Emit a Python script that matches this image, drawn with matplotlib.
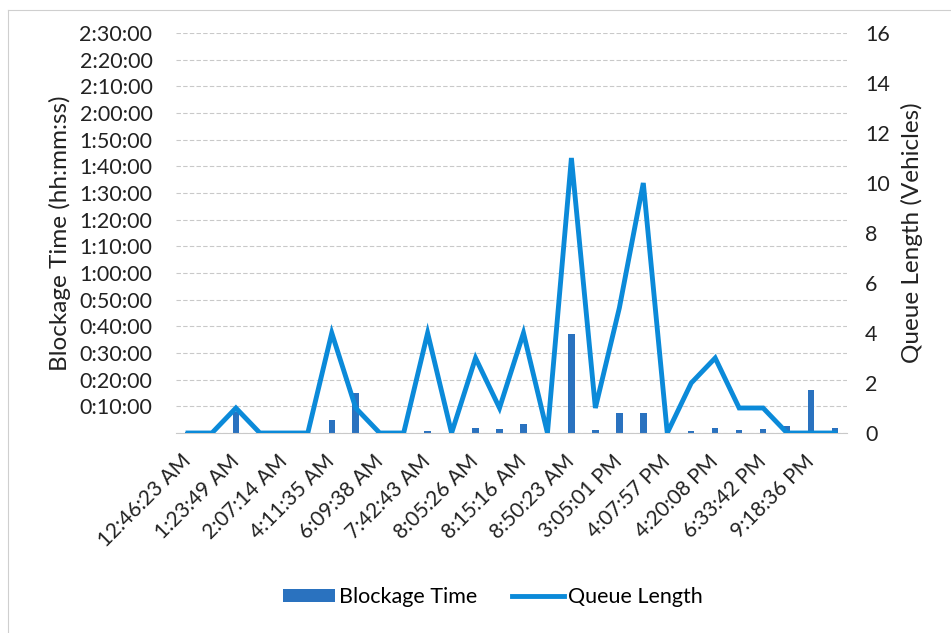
import matplotlib
matplotlib.use("Agg")
import matplotlib.pyplot as plt
from matplotlib.ticker import FuncFormatter, MultipleLocator
from matplotlib.lines import Line2D
from matplotlib.patches import Patch
import numpy as np

plt.rcParams['font.family'] = ['Lato', 'DejaVu Sans']

# event times (every other one gets a label on the axis)
times = ['12:46:23 AM', '', '1:23:49 AM', '', '2:07:14 AM', '', '4:11:35 AM', '',
         '6:09:38 AM', '', '7:42:43 AM', '', '8:05:26 AM', '', '8:15:16 AM', '',
         '8:50:23 AM', '', '3:05:01 PM', '', '4:07:57 PM', '', '4:20:08 PM', '',
         '6:33:42 PM', '', '9:18:36 PM', '']

# blockage time in minutes
blockage_min = [0.5, 0, 8, 0, 0, 0, 5, 15, 0, 0, 0.7, 0, 2, 1.5,
                3.5, 0, 37, 1, 7.5, 7.5, 0, 0.7, 2, 1, 1.5, 2.5, 16, 2]

# queue length in vehicles
queue = [0, 0, 1, 0, 0, 0, 4, 1, 0, 0, 4, 0, 3, 1,
         4, 0, 11, 1, 5, 10, 0, 2, 3, 1, 1, 0, 0, 0]

bar_color = '#2a72bf'
line_color = '#0b8ad9'
text_color = '#222222'

fig = plt.figure(figsize=(9.51, 6.33), dpi=100)
ax = fig.add_axes([176/951, 200/633, 671/951, 400/633])
ax2 = ax.twinx()

x = np.arange(len(times))
blockage_sec = np.array(blockage_min) * 60

ax.bar(x, blockage_sec, width=0.27, color=bar_color, zorder=2)
ax2.plot(x, queue, color=line_color, linewidth=3.5, solid_joinstyle='miter', zorder=3)

ax.set_xlim(-0.5, len(times) - 0.5)
ax.set_ylim(0, 150 * 60)
ax2.set_ylim(0, 16)

def hms(v, pos):
    if v <= 0:
        return ''
    v = int(round(v))
    return f'{v // 3600}:{(v % 3600) // 60:02d}:{v % 60:02d}'

ax.yaxis.set_major_locator(MultipleLocator(600))
ax.yaxis.set_major_formatter(FuncFormatter(hms))
ax2.yaxis.set_major_locator(MultipleLocator(2))

ax.grid(axis='y', color='#c9c9c9', linestyle=(0, (4, 2)), linewidth=0.8, zorder=0)
ax.set_axisbelow(True)

for a in (ax, ax2):
    for s in a.spines.values():
        s.set_visible(False)
ax.spines['bottom'].set_visible(True)
ax.spines['bottom'].set_color('#c9c9c9')
ax.spines['bottom'].set_linewidth(0.8)

ax.tick_params(axis='y', length=0, pad=17, labelsize=15.5, colors=text_color)
ax2.tick_params(axis='y', length=0, pad=13, labelsize=15.5, colors=text_color)
ax.set_xticks(x)
ax.set_xticklabels(times, rotation=45, ha='right', va='center',
                   rotation_mode='anchor', fontsize=15, color=text_color)
ax.tick_params(axis='x', length=0, pad=18)

ax.set_ylabel('Blockage Time (hh:mm:ss)', fontsize=17.5, color=text_color, labelpad=6)
ax2.set_ylabel('Queue Length (Vehicles)', fontsize=17.5, color=text_color, labelpad=8)

handles = [Patch(facecolor=bar_color, edgecolor='none'),
           Line2D([0], [0], color=line_color, linewidth=3.5)]
fig.legend(handles, ['Blockage Time', 'Queue Length'], loc='center',
           bbox_to_anchor=(493/951, 1 - 597/633), ncol=2, frameon=False,
           fontsize=15.5, handlelength=2.4, handleheight=0.6, handletextpad=0.2,
           columnspacing=1.6)

# chart area border
fig.add_artist(Line2D([8/951, 8/951], [0, 1 - 10/633], color='#cfcfcf', linewidth=0.8))
fig.add_artist(Line2D([8/951, 1], [1 - 10/633, 1 - 10/633], color='#cfcfcf', linewidth=0.8))

fig.savefig('out.png', dpi=100)
